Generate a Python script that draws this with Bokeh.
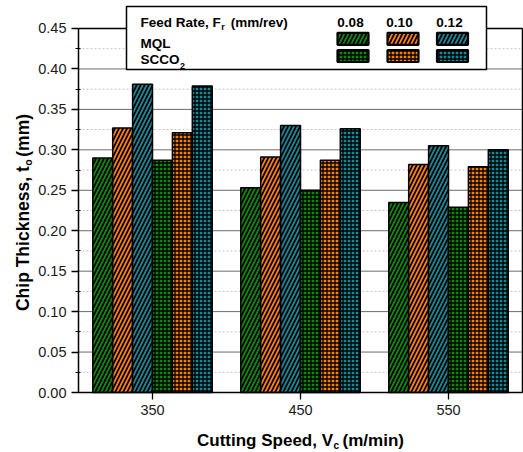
import math
from bokeh.plotting import figure
from bokeh.models import Range1d, FixedTicker, NumeralTickFormatter, Label
from bokeh.embed import file_html
from bokeh.resources import INLINE

# ---------------- data ----------------
speeds = [350, 450, 550]
feed_rates = ["0.08", "0.10", "0.12"]
conditions = ["MQL", "SCCO"]          # SCCO + subscript 2
mql_008 = [0.290, 0.253, 0.235]
mql_010 = [0.327, 0.291, 0.282]
mql_012 = [0.381, 0.330, 0.305]
scco2_008 = [0.287, 0.250, 0.229]
scco2_010 = [0.321, 0.287, 0.279]
scco2_012 = [0.379, 0.326, 0.300]
y_ticks = [0.00, 0.05, 0.10, 0.15, 0.20, 0.25, 0.30, 0.35, 0.40, 0.45]
y_minor = [0.025, 0.075, 0.125, 0.175, 0.225, 0.275, 0.325, 0.375, 0.425]
x_ticks = [350, 450, 550]

# ---------------- layout ----------------
W, H = 523, 452
X0, X1 = 300, 600              # plot-box extent (x)
SX = 1.48                      # px per x unit
SY = 808.9                     # px per y unit
BAR_W = 13.45

GREEN, ORANGE, TEAL = "#0c8a0c", "#ff8000", "#15899a"
FONT = "Liberation Sans"
STRIPE = dict(hatch_pattern="/", hatch_color="black", hatch_scale=8, hatch_weight=1.7)
MESH = dict(hatch_pattern="+", hatch_color="black", hatch_scale=4, hatch_weight=1.3)

def ref_x(px):
    return X0 + (px - 78) / SX

def ref_y(py):
    return (392 - py) / SY

AW = {' ': 278, '(': 333, ')': 333, ',': 278, '.': 278, '/': 278,
      '0': 556, '1': 556, '2': 556, '8': 556,
      'C': 722, 'F': 611, 'L': 611, 'M': 833, 'O': 778, 'Q': 778, 'R': 722,
      'S': 667, 'T': 611, 'V': 667, 'a': 556, 'c': 556, 'd': 611, 'e': 556,
      'g': 611, 'h': 611, 'i': 278, 'k': 556, 'm': 889, 'n': 611, 'o': 611,
      'p': 611, 'r': 389, 's': 556, 't': 333, 'u': 611, 'v': 556}

def aw(text, size):
    return sum(AW.get(c, 556) for c in text) / 1000.0 * size

p = figure(width=W, height=H,
           x_range=Range1d(ref_x(0), ref_x(W)), y_range=Range1d(ref_y(H), ref_y(0)),
           output_backend="svg", toolbar_location=None, title=None,
           min_border_left=0, min_border_right=0, min_border_top=0,
           min_border_bottom=0)
p.outline_line_color = None
p.background_fill_color = "white"
p.border_fill_color = "white"
p.xgrid.visible = False
p.ygrid.visible = False

# axes (placed at the plot box edges)
p.xaxis.fixed_location = 0
p.xaxis.bounds = (X0, X1)
p.yaxis.fixed_location = X0
p.yaxis.bounds = (y_ticks[0], y_ticks[-1])
p.xaxis.ticker = FixedTicker(ticks=x_ticks)
p.yaxis.ticker = FixedTicker(ticks=y_ticks, minor_ticks=y_minor)
p.yaxis.formatter = NumeralTickFormatter(format="0.00")
for ax in (p.xaxis, p.yaxis):
    ax.major_label_text_font = FONT
    ax.major_label_text_font_size = "14.5px"
    ax.major_label_text_color = "#1a1a1a"
    ax.major_tick_line_color = "black"
    ax.major_tick_line_width = 1.3
    ax.major_tick_out = 7
    ax.major_tick_in = 0
    ax.major_label_standoff = 5
    ax.axis_line_color = "black"
    ax.axis_line_width = 1.5
p.xaxis.minor_tick_line_color = None
p.yaxis.minor_tick_line_color = "black"
p.yaxis.minor_tick_line_width = 1
p.yaxis.minor_tick_out = 3
p.yaxis.minor_tick_in = 2

# grid lines inside the plot box
p.segment(x0=[X0] * len(y_minor), x1=[X1] * len(y_minor), y0=y_minor, y1=y_minor,
          line_color="#c4c4c4", line_width=1, line_dash="2 2")
p.segment(x0=[X0] * len(y_ticks), x1=[X1] * len(y_ticks), y0=y_ticks, y1=y_ticks,
          line_color="#6a6a6a", line_width=1)

# top and right edges of the plot box
p.segment(x0=[X0, X1], y0=[y_ticks[-1], 0], x1=[X1, X1], y1=[y_ticks[-1], y_ticks[-1]],
          line_color="black", line_width=1.5)

# bars
series = [(mql_008, GREEN, STRIPE), (mql_010, ORANGE, STRIPE), (mql_012, TEAL, STRIPE),
          (scco2_008, GREEN, MESH), (scco2_010, ORANGE, MESH), (scco2_012, TEAL, MESH)]
for i, (vals, col, hatch) in enumerate(series):
    off = (i - 2.5) * BAR_W
    xs = [s + off for s in speeds]
    p.vbar(x=xs, top=vals, bottom=0, width=BAR_W, fill_color=col,
           line_color="black", line_width=1.5, **hatch)

# legend box
p.quad(left=[ref_x(126)], right=[ref_x(486)], bottom=[ref_y(69)], top=[ref_y(6)],
       fill_color="white", line_color="black", line_width=1.5)

col_x = [ref_x(352.5), ref_x(402.5), ref_x(452)]
row_y = [ref_y(38.3), ref_y(55.5)]
colors = [GREEN, ORANGE, TEAL]
for r, hatch in enumerate([STRIPE, MESH]):
    p.rect(x=col_x, y=[row_y[r]] * 3, width=31 / SX, height=12 / SY,
           fill_color=colors, line_color="black", line_width=2.2, **hatch)

def lab(x, y, text, size, align="left", angle=0.0, style="bold"):
    p.add_layout(Label(x=x, y=y, text=text, text_font=FONT, text_font_size=f"{size}px",
                       text_font_style=style, text_color="black", text_align=align,
                       text_baseline="alphabetic", angle=angle))

LS = 13.5
# legend header
hx = ref_x(140)
hy = ref_y(22.3)
lab(hx, hy, "Feed Rate, F", LS)
rx = hx + (aw("Feed Rate, F", LS) + 0.5) / SX
lab(rx, hy - 4.2 / SY, "r", 9)
lab(rx + (aw("r", 9) + 6) / SX, hy, "(mm/rev)", LS)
for cx, fr in zip([ref_x(350), ref_x(399), ref_x(449)], feed_rates):
    lab(cx, hy, fr, LS, align="center")
lab(hx, ref_y(43.3), conditions[0], LS)
lab(hx, ref_y(59.3), conditions[1], LS)
lab(hx + (aw("SCCO", LS) + 0.5) / SX, ref_y(59.3) - 6.2 / SY, "2", 9)

# x-axis title
XT = 17
xb = ref_y(440)
tot = aw("Cutting Speed, V", XT) + 0.5 + aw("c", 10) + 3.5 + aw("(m/min)", XT)
xs0 = (X0 + X1) / 2 - tot / 2 / SX
lab(xs0, xb, "Cutting Speed, V", XT)
cx0 = xs0 + (aw("Cutting Speed, V", XT) + 0.5) / SX
lab(cx0, xb - 5 / SY, "c", 10)
lab(cx0 + (aw("c", 10) + 3.5) / SX, xb, "(m/min)", XT)

# y-axis title (rotated)
YT = 17.5
yb = ref_x(22)
ytot = aw("Chip Thickness, t", YT) + 0.5 + aw("o", 10.5) + 2.5 + aw("(mm)", YT)
ys0 = 0.2225 - ytot / 2 / SY
A = math.pi / 2
lab(yb, ys0, "Chip Thickness, t", YT, angle=A)
oy = ys0 + (aw("Chip Thickness, t", YT) + 0.5) / SY
lab(yb + 5.5 / SX, oy, "o", 10.5, angle=A)
lab(yb, oy + (aw("o", 10.5) + 2.5) / SY, "(mm)", YT, angle=A)

open("out.html", "w").write(file_html(p, INLINE))
